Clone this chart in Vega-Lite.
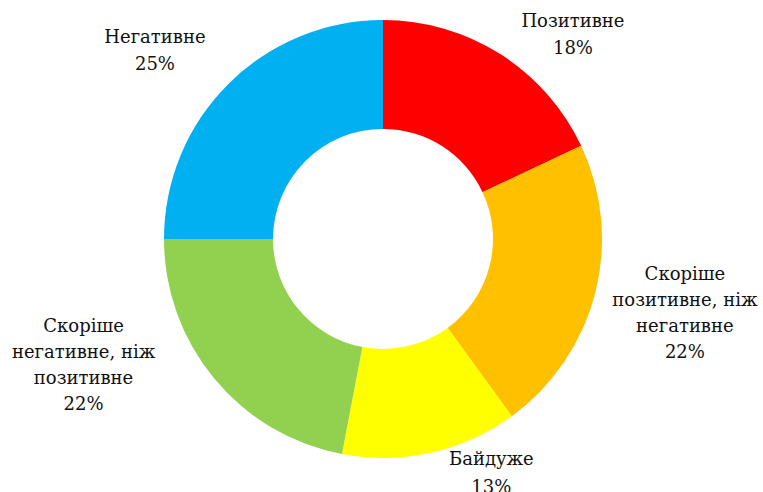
{
  "$schema": "https://vega.github.io/schema/vega-lite/v6.json",
  "width": 760,
  "height": 478,
  "autosize": "none",
  "padding": {"left": 3, "right": 0, "top": 0, "bottom": 14},
  "background": "white",
  "config": {"view": {"stroke": null}},
  "data": {
    "values": [
      {"idx": 1, "category": "Позитивне", "label": "Позитивне", "share": 18},
      {"idx": 2, "category": "Скоріше позитивне, ніж негативне", "label": "Скоріше\nпозитивне, ніж\nнегативне", "share": 22},
      {"idx": 3, "category": "Байдуже", "label": "Байдуже", "share": 13},
      {"idx": 4, "category": "Скоріше негативне, ніж позитивне", "label": "Скоріше\nнегативне, ніж\nпозитивне", "share": 22},
      {"idx": 5, "category": "Негативне", "label": "Негативне", "share": 25}
    ]
  },
  "transform": [{"calculate": "datum.label + '\\n' + datum.share + '%'", "as": "text"}],
  "encoding": {
    "theta": {"field": "share", "type": "quantitative", "stack": true},
    "order": {"field": "idx", "type": "quantitative"}
  },
  "layer": [
    {
      "mark": {"type": "arc", "innerRadius": 110, "outerRadius": 219},
      "encoding": {
        "color": {
          "field": "category",
          "type": "nominal",
          "scale": {
            "domain": ["Позитивне", "Скоріше позитивне, ніж негативне", "Байдуже", "Скоріше негативне, ніж позитивне", "Негативне"],
            "range": ["#FF0000", "#FFC000", "#FFFF00", "#92D050", "#00B0F0"]
          },
          "legend": null
        }
      }
    },
    {
      "mark": {"type": "text", "radius": 250, "dx": 56, "dy": -6, "font": "DejaVu Serif", "fontSize": 18, "lineBreak": "\n", "lineHeight": 27, "color": "#111"},
      "encoding": {
        "detail": {"field": "category", "type": "nominal"},
        "text": {"condition": {"test": "datum.idx === 1", "field": "text", "type": "nominal"}, "value": ""}
      }
    },
    {
      "mark": {"type": "text", "radius": 290, "dx": 21, "dy": -36, "font": "DejaVu Serif", "fontSize": 18, "lineBreak": "\n", "lineHeight": 26, "color": "#111"},
      "encoding": {
        "detail": {"field": "category", "type": "nominal"},
        "text": {"condition": {"test": "datum.idx === 2", "field": "text", "type": "nominal"}, "value": ""}
      }
    },
    {
      "mark": {"type": "text", "radius": 240, "dx": 56, "dy": -13, "font": "DejaVu Serif", "fontSize": 18, "lineBreak": "\n", "lineHeight": 28, "color": "#111"},
      "encoding": {
        "detail": {"field": "category", "type": "nominal"},
        "text": {"condition": {"test": "datum.idx === 3", "field": "text", "type": "nominal"}, "value": ""}
      }
    },
    {
      "mark": {"type": "text", "radius": 290, "dx": -76, "dy": -97, "font": "DejaVu Serif", "fontSize": 18, "lineBreak": "\n", "lineHeight": 26, "color": "#111"},
      "encoding": {
        "detail": {"field": "category", "type": "nominal"},
        "text": {"condition": {"test": "datum.idx === 4", "field": "text", "type": "nominal"}, "value": ""}
      }
    },
    {
      "mark": {"type": "text", "radius": 290, "dx": -23, "dy": 4, "font": "DejaVu Serif", "fontSize": 18, "lineBreak": "\n", "lineHeight": 27, "color": "#111"},
      "encoding": {
        "detail": {"field": "category", "type": "nominal"},
        "text": {"condition": {"test": "datum.idx === 5", "field": "text", "type": "nominal"}, "value": ""}
      }
    }
  ]
}
